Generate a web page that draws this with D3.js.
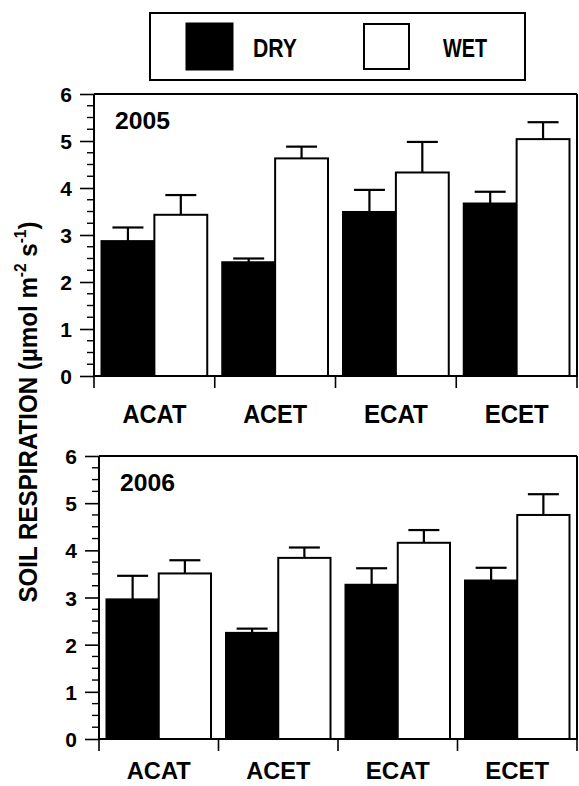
<!DOCTYPE html>
<html>
<head>
<meta charset="utf-8">
<script src="https://cdn.jsdelivr.net/npm/d3@7"></script>
<style>
  html, body { margin: 0; padding: 0; background: #fff; }
  svg { display: block; }
  text { font-family: "Liberation Sans", Arial, sans-serif; font-weight: bold; fill: #000; }
</style>
</head>
<body>
<svg id="chart" width="579" height="786"></svg>
<script>
// ---- data ----
const categories = ["ACAT", "ACET", "ECAT", "ECET"];
const seriesNames = ["DRY", "WET"];
const years = ["2005", "2006"];
const yTicks = [0, 1, 2, 3, 4, 5, 6];

const dry2005 = [2.87, 2.42, 3.49, 3.67];
const dryErr2005 = [0.29, 0.08, 0.47, 0.25];
const wet2005 = [3.43, 4.63, 4.33, 5.04];
const wetErr2005 = [0.42, 0.25, 0.65, 0.36];

const dry2006 = [2.96, 2.25, 3.27, 3.36];
const dryErr2006 = [0.50, 0.09, 0.35, 0.27];
const wet2006 = [3.51, 3.84, 4.16, 4.75];
const wetErr2006 = [0.28, 0.22, 0.27, 0.44];

const panelsData = [
  { year: years[0], dry: dry2005, dryErr: dryErr2005, wet: wet2005, wetErr: wetErr2005,
    left: 94, right: 577, top: 94, bottom: 376, labelY: 47, labelSize: 26 },
  { year: years[1], dry: dry2006, dryErr: dryErr2006, wet: wet2006, wetErr: wetErr2006,
    left: 99, right: 577, top: 456, bottom: 739, labelY: 40, labelSize: 24 }
];

const svg = d3.select("#chart");

// ---- legend ----
const legend = svg.append("g");
legend.append("rect").attr("x", 150).attr("y", 13).attr("width", 375).attr("height", 67)
  .attr("fill", "#fff").attr("stroke", "#000").attr("stroke-width", 2);
legend.append("rect").attr("x", 186).attr("y", 23).attr("width", 47).attr("height", 47)
  .attr("fill", "#000").attr("stroke", "#000").attr("stroke-width", 1);
legend.append("text").attr("x", 253).attr("y", 57).attr("font-size", 25)
  .attr("textLength", 44).attr("lengthAdjust", "spacingAndGlyphs").text(seriesNames[0]);
legend.append("rect").attr("x", 364).attr("y", 24).attr("width", 45).attr("height", 45)
  .attr("fill", "#fff").attr("stroke", "#000").attr("stroke-width", 2);
legend.append("text").attr("x", 443).attr("y", 57).attr("font-size", 25)
  .attr("textLength", 44).attr("lengthAdjust", "spacingAndGlyphs").text(seriesNames[1]);

// ---- panels ----
panelsData.forEach(p => {
  const g = svg.append("g");
  const x0 = d3.scaleBand().domain(categories).range([p.left, p.right]).paddingInner(0).paddingOuter(0);
  const bw = x0.bandwidth();
  const x1 = d3.scaleBand().domain(seriesNames).range([7.5, bw - 7.5]).padding(0);
  const y = d3.scaleLinear().domain([0, 6]).range([p.bottom, p.top]);

  // frame top & right
  g.append("line").attr("x1", p.left).attr("x2", p.right).attr("y1", p.top).attr("y2", p.top)
    .attr("stroke", "#000").attr("stroke-width", 2);
  g.append("line").attr("x1", p.right).attr("x2", p.right).attr("y1", p.top).attr("y2", p.bottom)
    .attr("stroke", "#000").attr("stroke-width", 2);

  // bars
  const rows = categories.map((c, i) => ({
    cat: c,
    items: [
      { s: seriesNames[0], v: p.dry[i], e: p.dryErr[i], fill: "#000" },
      { s: seriesNames[1], v: p.wet[i], e: p.wetErr[i], fill: "#fff" }
    ]
  }));
  const grp = g.selectAll("g.cat").data(rows).join("g")
    .attr("transform", d => `translate(${x0(d.cat)},0)`);

  grp.selectAll("line.err").data(d => d.items).join("line")
    .attr("x1", d => x1(d.s) + x1.bandwidth() / 2).attr("x2", d => x1(d.s) + x1.bandwidth() / 2)
    .attr("y1", d => y(d.v)).attr("y2", d => y(d.v + d.e))
    .attr("stroke", "#000").attr("stroke-width", 2.2);
  grp.selectAll("line.cap").data(d => d.items).join("line")
    .attr("x1", d => x1(d.s) + x1.bandwidth() / 2 - 15.5).attr("x2", d => x1(d.s) + x1.bandwidth() / 2 + 15.5)
    .attr("y1", d => y(d.v + d.e)).attr("y2", d => y(d.v + d.e))
    .attr("stroke", "#000").attr("stroke-width", 2.2);

  grp.selectAll("rect").data(d => d.items).join("rect")
    .attr("x", d => x1(d.s)).attr("width", x1.bandwidth())
    .attr("y", d => y(d.v)).attr("height", d => y(0) - y(d.v))
    .attr("fill", d => d.fill).attr("stroke", "#000").attr("stroke-width", 2);

  // y axis
  const yAxis = d3.axisLeft(y).tickValues(yTicks).tickSize(14).tickPadding(8).tickFormat(d3.format("d"));
  const ya = g.append("g").attr("transform", `translate(${p.left},0)`).call(yAxis);
  ya.select(".domain").attr("stroke-width", 2).attr("d", `M-0,${p.top}V${p.bottom}`);
  ya.selectAll(".tick line").attr("stroke-width", 1.6);
  ya.selectAll(".tick text").attr("font-size", 21).attr("font-family", "Liberation Sans, Arial, sans-serif")
    .attr("font-weight", "bold").attr("dy", "0.36em");
  const minor = d3.range(0, 6.001, 0.25).filter(v => Math.abs(v - Math.round(v)) > 1e-6);
  g.append("g").selectAll("line").data(minor).join("line")
    .attr("x1", p.left - 7).attr("x2", p.left).attr("y1", d => y(d)).attr("y2", d => y(d))
    .attr("stroke", "#000").attr("stroke-width", 1.4);

  // x axis
  const xa = g.append("g").attr("transform", `translate(0,${p.bottom})`);
  xa.append("line").attr("x1", p.left - 1).attr("x2", p.right + 1).attr("y1", 0).attr("y2", 0)
    .attr("stroke", "#000").attr("stroke-width", 2);
  const bounds = categories.map(c => x0(c)).concat([p.right]);
  xa.selectAll("line.tk").data(bounds).join("line").attr("class", "tk")
    .attr("x1", d => d).attr("x2", d => d).attr("y1", 0).attr("y2", 12)
    .attr("stroke", "#000").attr("stroke-width", 1.6);
  xa.selectAll("text").data(categories).join("text")
    .attr("x", d => x0(d) + bw / 2).attr("y", p.labelY)
    .attr("text-anchor", "middle").attr("font-size", p.labelSize)
    .attr("textLength", 64).attr("lengthAdjust", "spacingAndGlyphs").text(d => d);

  // year label
  g.append("text").attr("x", p.left + 21).attr("y", p.top + 35).attr("font-size", 23)
    .attr("textLength", 55).attr("lengthAdjust", "spacingAndGlyphs").text(p.year);
});

// ---- y label ----
const yl = svg.append("text").attr("transform", "translate(37,412) rotate(-90)")
  .attr("text-anchor", "middle").attr("font-size", 25)
  .attr("textLength", 381).attr("lengthAdjust", "spacingAndGlyphs");
yl.append("tspan").text("SOIL RESPIRATION (\u00b5mol m");
yl.append("tspan").attr("font-size", 16).attr("dy", -11).text("-2");
yl.append("tspan").attr("dy", 11).text(" s");
yl.append("tspan").attr("font-size", 16).attr("dy", -11).text("-1");
yl.append("tspan").attr("dy", 11).text(")");
</script>
</body>
</html>
